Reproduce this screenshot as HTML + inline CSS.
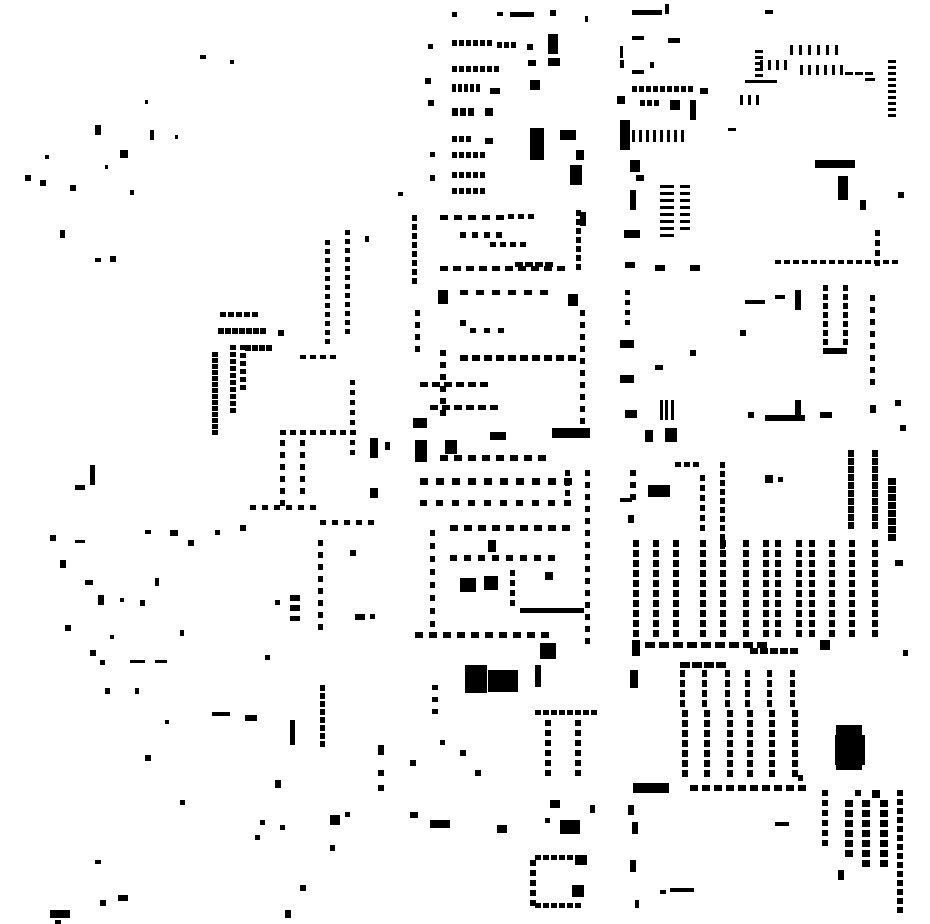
<!DOCTYPE html>
<html><head><meta charset="utf-8"><style>html,body{margin:0;padding:0;background:#fff}svg{display:block}</style></head>
<body>
<svg id="s" width="930" height="924" xmlns="http://www.w3.org/2000/svg"><path id="p" fill="#000" d=""/></svg>
<script>
var d=[];
function r(x,y,w,h){d.push("M"+x+" "+y+"h"+w+"v"+h+"h"+(-w)+"z");}
function H(x,y,n,dx,w,h){for(var i=0;i<n;i++)r(x+i*dx,y,w,h);}
function V(x,y,n,dy,w,h){for(var i=0;i<n;i++)r(x,y+i*dy,w,h);}
// top
[[452,12,5,5],[497,12,6,4],[510,12,24,5],[550,10,6,6],[585,16,3,6],[632,10,30,5],[665,4,4,10],[765,10,8,4],
[428,44,5,5],[527,44,6,6],[548,34,10,20],[620,46,3,12],[632,36,12,4],[668,38,12,5],
[528,60,8,6],[548,58,12,8],[620,60,4,8],[632,70,12,4],[650,62,4,6],
[425,78,6,6],[490,88,10,6],[530,80,10,10],[700,88,8,6],
[428,100,6,6],[485,108,8,8],[617,96,8,8],[670,100,10,10],[690,100,6,20],
[620,120,10,30],[530,128,14,32],[560,130,16,10],[576,150,8,10],
[485,138,8,6],[430,152,5,5],[570,165,12,20],[430,175,5,6],[630,160,10,12],[636,175,8,6],
[815,160,40,8],[838,176,10,24],[860,200,6,10],[898,192,6,6],[630,190,6,20],[624,230,16,8],[655,265,10,6],[690,265,10,6],[625,262,10,6],
[200,55,6,4],[230,60,4,4],[145,100,3,4],[95,125,6,10],[120,150,8,8],[150,130,4,10],[175,135,3,4],[45,155,4,4],[25,175,6,6],[40,180,6,6],[70,185,6,6],[105,165,3,4],[130,190,4,5],[60,230,5,8],[95,258,6,4],[110,256,6,6],[398,192,5,4],[365,236,4,6]
].forEach(function(a){r.apply(null,a)});
H(452,40,6,7,5,6);H(497,42,3,7,5,6);H(452,66,7,7,5,6);H(452,84,5,6,4,8);H(632,86,9,7,5,6);H(452,108,3,8,6,8);H(640,100,3,7,5,6);
H(452,136,3,7,5,6);H(452,152,5,7,5,6);H(452,172,5,7,5,6);H(452,188,5,7,5,6);
H(632,130,8,7,3,12);V(660,185,8,7,14,3);V(680,185,7,7,10,3);
// curvy top right cluster
H(790,45,6,9,3,10);H(760,60,4,8,3,10);H(800,65,6,8,3,10);H(745,80,4,8,8,3);H(740,95,3,8,3,10);V(888,60,10,6,8,3);V(755,50,5,6,8,3);H(845,72,3,10,8,3);r(865,78,10,3);r(728,128,8,3);
// middle column
V(412,215,8,9,5,6);V(576,210,7,9,5,6);r(580,212,6,14);H(440,215,5,14,8,5);H(460,232,4,12,6,6);H(490,242,4,10,6,5);H(508,214,3,10,6,5);H(515,262,4,10,8,5);H(440,266,10,13,8,5);
r(438,290,10,14);H(460,290,6,16,8,5);r(568,294,10,12);V(415,310,4,12,5,6);r(460,320,6,6);H(470,328,3,14,6,5);
H(460,355,10,12,8,6);V(440,350,6,12,6,6);V(580,310,10,12,5,6);H(420,382,6,12,8,5);H(430,405,6,12,8,5);
r(413,418,14,10);r(552,428,38,10);r(415,440,12,22);r(445,440,12,14);r(490,432,16,8);H(440,455,8,14,8,6);
H(420,478,10,16,8,7);H(420,500,10,16,7,6);H(450,525,9,14,8,6);V(430,530,8,13,5,6);V(585,470,15,12,5,6);V(565,470,3,10,5,6);
H(450,555,8,14,7,6);r(460,578,16,14);r(484,576,14,14);r(545,572,8,8);H(520,608,8,8,8,5);V(510,570,4,10,5,6);
H(415,632,10,14,8,6);r(540,643,16,16);r(465,665,22,28);r(488,670,30,22);r(535,665,6,22);V(432,685,3,12,6,5);r(488,540,8,12);
// left mid
H(220,312,5,8,6,5);H(218,328,7,7,6,6);r(278,330,6,6);H(245,345,4,7,6,6);V(212,352,14,6,6,5);V(230,345,10,7,6,5);V(240,345,6,8,6,5);
H(300,355,4,10,6,4);V(325,240,12,9,5,5);V(345,230,12,9,5,5);H(280,430,8,10,6,5);V(280,440,6,12,5,6);V(350,380,8,10,5,5);V(300,440,5,12,5,6);
r(370,438,8,20);r(385,442,5,8);r(370,488,8,10);H(250,505,6,12,6,5);H(320,520,5,12,6,5);V(318,540,8,12,5,6);V(320,685,8,8,5,6);
r(290,595,10,6);r(290,605,10,6);r(290,616,10,5);r(355,614,10,6);r(370,614,5,5);r(350,550,6,6);r(245,715,12,6);r(290,720,5,25);r(212,712,18,4);r(275,600,5,5);
// left sparse
[[90,465,5,20],[75,485,10,5],[50,535,6,6],[75,540,10,3],[60,560,6,8],[85,580,8,5],[98,595,6,10],[120,598,4,4],[140,600,5,6],[155,578,4,8],[145,530,6,4],[170,530,8,6],[188,540,6,6],[215,530,5,5],[240,525,6,6],[65,625,6,6],[90,650,6,6],[100,660,5,5],[110,635,4,4],[130,660,15,3],[155,660,12,3],[105,688,5,6],[135,688,4,6],[180,630,4,6],[265,655,5,5],[165,720,4,4],[145,755,6,6],[180,800,5,5],[95,860,6,4],[50,910,20,8],[55,920,6,4],[118,895,10,6],[100,900,6,6],[300,885,6,6],[285,910,6,8],[275,780,6,8],[260,820,5,5],[255,835,5,5],[280,825,5,5],[330,815,10,10],[345,812,5,5],[330,845,5,6],[378,745,6,10],[378,770,6,6],[378,785,6,6],[410,760,6,6],[440,740,5,5],[460,750,6,6],[475,770,6,6],[410,812,8,6],[430,820,20,8],[497,825,10,8],[550,800,10,8],[560,820,20,14],[590,805,5,8],[545,818,5,5]
].forEach(function(a){r.apply(null,a)});
// bottom mid
H(535,710,8,8,6,5);V(545,720,6,10,6,6);V(575,720,6,10,6,6);V(530,860,5,10,6,6);H(535,855,6,8,6,5);H(535,903,6,8,6,5);r(575,855,12,10);r(572,885,12,12);
// right side
V(625,290,4,10,5,5);r(620,340,14,8);r(620,375,14,8);r(625,410,12,8);r(690,350,6,6);r(660,400,3,20);r(665,400,3,20);r(671,400,3,20);r(645,430,8,12);r(665,428,12,14);
r(795,400,6,20);r(765,415,40,6);r(820,412,12,6);r(870,405,6,8);r(895,400,6,6);r(900,425,6,6);r(748,412,6,6);
r(740,330,6,6);r(745,300,20,4);r(775,295,10,4);r(795,290,6,20);r(655,365,8,5);
H(775,260,14,9,6,4);V(875,230,4,10,5,6);V(870,295,8,12,5,6);V(823,285,7,9,5,6);V(843,285,7,9,5,6);H(823,348,4,6,6,6);
// grid
[633,653,673,700,720,743,763,775,796,809,829,849,872].forEach(function(x,i){V(x,540,10,10,6,7);});
V(848,450,10,8,6,7);V(872,450,10,8,6,7);V(888,478,8,8,8,7);V(720,462,10,9,5,6);V(700,475,6,10,5,6);H(675,462,3,9,6,5);
r(648,485,22,12);r(765,475,8,8);r(778,477,5,5);V(630,470,3,12,6,6);r(620,498,12,4);r(628,515,6,8);r(895,560,8,6);r(903,650,5,6);
H(645,642,9,14,10,6);H(750,648,5,10,8,6);r(820,640,10,10);r(632,640,8,16);r(630,670,8,18);
// lower grid
[680,702,725,745,767,790].forEach(function(x){V(x,670,4,10,5,7);V(x+2,710,7,10,6,7);});H(680,662,4,12,10,6);H(690,785,10,12,8,6);r(798,775,5,6);
r(836,725,26,45);r(835,735,30,30);r(633,783,36,10);
V(822,790,6,10,6,6);V(845,800,6,10,8,7);V(862,800,7,10,8,7);V(880,800,7,10,8,7);V(897,790,14,9,6,6);r(838,870,6,10);r(872,790,8,8);r(855,790,6,6);
r(628,805,6,10);r(632,822,6,12);r(630,860,6,12);r(635,900,4,8);r(670,888,24,4);r(775,822,14,4);r(660,890,6,4);
document.getElementById("p").setAttribute("d",d.join(""));
</script>
</body></html>
